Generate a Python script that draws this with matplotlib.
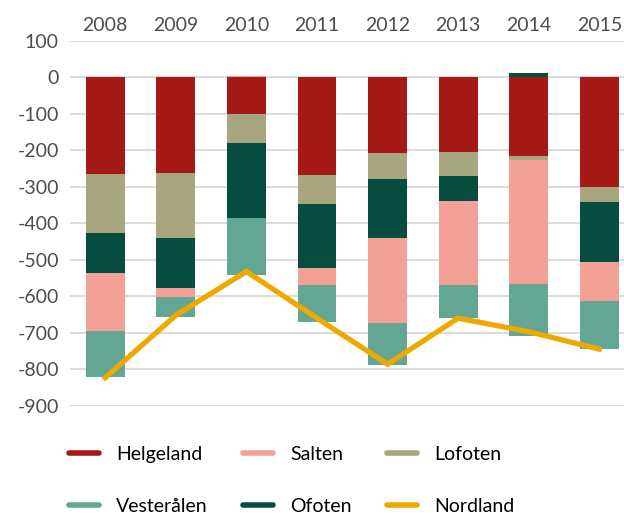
import matplotlib.pyplot as plt
from matplotlib.lines import Line2D
import numpy as np

# Data
years = ['2008', '2009', '2010', '2011', '2012', '2013', '2014', '2015']
helgeland = [-264, -261, -100, -267, -207, -204, -215, -300]
lofoten = [-162, -179, -79, -80, -71, -66, -11, -41]
ofoten = [-110, -137, -206, -175, -162, -69, 13, -165]
salten = [-159, -25, 4, -47, -233, -230, -340, -107]
vesteralen = [-126, -55, -156, -101, -115, -90, -143, -131]
nordland = [-823, -652, -532, -660, -786, -660, -697, -745]

# stacking order from the top down
stack = [('Helgeland', helgeland, '#A51916'),
         ('Lofoten', lofoten, '#A7A67E'),
         ('Ofoten', ofoten, '#074D3F'),
         ('Salten', salten, '#F3A097'),
         ('Vesterålen', vesteralen, '#63A693')]
line_color = '#EDA900'

plt.rcParams['font.family'] = ['Lato', 'DejaVu Sans']
plt.rcParams['axes.unicode_minus'] = False

fig = plt.figure(figsize=(6.24, 5.15), dpi=100)
ax = fig.add_axes([0.1122, 0.2122, 0.8878, 0.7082])

x = np.arange(len(years))
pos_base = np.zeros(len(years))
neg_base = np.zeros(len(years))
for name, vals, color in stack:
    v = np.array(vals, dtype=float)
    bottom = np.where(v >= 0, pos_base, neg_base)
    ax.bar(x, v, bottom=bottom, width=0.55, color=color, zorder=2)
    pos_base += np.where(v >= 0, v, 0)
    neg_base += np.where(v < 0, v, 0)

ax.plot(x, nordland, color=line_color, lw=3.8, zorder=3, solid_joinstyle='miter')

ax.set_ylim(-900, 100)
ax.set_xlim(-0.5, 7.35)
ax.set_yticks(range(-900, 101, 100))
ax.set_xticks(x)
ax.set_xticklabels(years)
ax.xaxis.tick_top()
ax.tick_params(axis='both', length=0, labelsize=14, labelcolor='#4d4d4d')
ax.tick_params(axis='x', pad=5)
ax.tick_params(axis='y', pad=8)
ax.grid(axis='y', color='#dcdcdc', lw=1.4, zorder=0)
ax.set_axisbelow(True)
for s in ax.spines.values():
    s.set_visible(False)

colors = dict((n, c) for n, _, c in stack)
order = ['Helgeland', 'Vesterålen', 'Salten', 'Ofoten', 'Lofoten', 'Nordland']
handles = []
for n in order:
    c = line_color if n == 'Nordland' else colors[n]
    handles.append(Line2D([], [], color=c, lw=4, solid_capstyle='round'))
fig.legend(handles, order, ncol=3, loc='upper left', bbox_to_anchor=(0.085, 0.165),
           frameon=False, fontsize=14, handlelength=1.55, handletextpad=0.9,
           columnspacing=1.8, labelspacing=1.8, borderpad=0.3)

fig.savefig('out.png', dpi=100)
